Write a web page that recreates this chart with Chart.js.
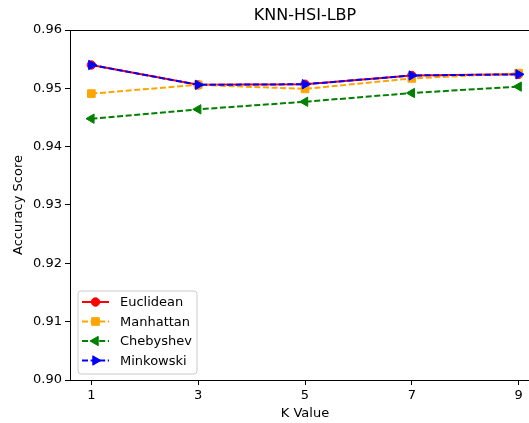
<!DOCTYPE html>
<html><head><meta charset="utf-8">
<script src="https://cdn.jsdelivr.net/npm/chart.js@4.4.1/dist/chart.umd.min.js"></script>
<style>html,body{margin:0;padding:0;overflow:hidden;background:#fff;width:529px;height:423px}</style>
</head><body>
<canvas id="c" width="560" height="423" style="display:block;width:560px;height:423px"></canvas>
<script>
const chartTitle = 'KNN-HSI-LBP';
const kValues = [1, 3, 5, 7, 9];
const euclidean = [0.9540, 0.9506, 0.9507, 0.9522, 0.9524];
const manhattan = [0.9491, 0.9506, 0.9499, 0.9517, 0.9526];
const chebyshev = [0.9448, 0.9464, 0.9477, 0.9492, 0.9503];
const minkowski = [0.9540, 0.9506, 0.9507, 0.9522, 0.9524];
const seriesNames = ['Euclidean', 'Manhattan', 'Chebyshev', 'Minkowski'];
const yTicks = [0.90, 0.91, 0.92, 0.93, 0.94, 0.95, 0.96];
const xTicks = [1, 3, 5, 7, 9];

const FONT = "'DejaVu Sans', sans-serif";
const styles = [
  {color: '#ff0000', dash: [], pointStyle: 'circle', rotation: 0, radius: 4.2},
  {color: '#ffa500', dash: [6, 2.6], pointStyle: 'rect', rotation: 0, radius: 5.4},
  {color: '#008000', dash: [6, 2.6], pointStyle: 'triangle', rotation: -90, radius: 5.4},
  {color: '#0000ff', dash: [6, 2.6], pointStyle: 'triangle', rotation: 90, radius: 5.4}
];
const allSeries = [euclidean, manhattan, chebyshev, minkowski];

const datasets = allSeries.map((vals, i) => ({
  label: seriesNames[i],
  data: kValues.map((k, j) => ({x: k, y: vals[j]})),
  borderColor: styles[i].color,
  backgroundColor: styles[i].color,
  pointBackgroundColor: styles[i].color,
  pointBorderColor: styles[i].color,
  pointBorderWidth: 1,
  pointStyle: styles[i].pointStyle,
  pointRotation: styles[i].rotation,
  pointRadius: styles[i].radius,
  borderWidth: 2,
  borderDash: styles[i].dash,
  tension: 0,
  fill: false,
  order: 3 - i
}));

const boxPlugin = {
  id: 'boxPlugin',
  afterDraw(chart) {
    const {ctx, chartArea: a} = chart;
    ctx.save();
    ctx.strokeStyle = '#000';
    ctx.lineWidth = 1;
    ctx.beginPath();
    ctx.moveTo(a.left, a.top + 0.5);
    ctx.lineTo(a.right, a.top + 0.5);
    ctx.moveTo(a.right - 0.5, a.top);
    ctx.lineTo(a.right - 0.5, a.bottom);
    ctx.stroke();
    // title
    ctx.fillStyle = '#000';
    ctx.font = '16px ' + FONT;
    ctx.textAlign = 'center';
    ctx.textBaseline = 'middle';
    ctx.fillText(chartTitle, (a.left + a.right) / 2, 16);
    // legend
    const lx = 78, ly = 291, lw = 119, lh = 83, r = 3;
    ctx.beginPath();
    ctx.moveTo(lx + r, ly);
    ctx.arcTo(lx + lw, ly, lx + lw, ly + lh, r);
    ctx.arcTo(lx + lw, ly + lh, lx, ly + lh, r);
    ctx.arcTo(lx, ly + lh, lx, ly, r);
    ctx.arcTo(lx, ly, lx + lw, ly, r);
    ctx.closePath();
    ctx.fillStyle = 'rgba(255,255,255,0.8)';
    ctx.fill();
    ctx.strokeStyle = '#cccccc';
    ctx.stroke();
    ctx.font = '13px ' + FONT;
    ctx.textAlign = 'left';
    seriesNames.forEach((name, i) => {
      const y = 302 + i * 19.5;
      const s = styles[i];
      ctx.save();
      ctx.strokeStyle = s.color;
      ctx.lineWidth = 2;
      ctx.setLineDash(s.dash);
      ctx.beginPath();
      ctx.moveTo(82, y);
      ctx.lineTo(109, y);
      ctx.stroke();
      ctx.restore();
      ctx.save();
      ctx.fillStyle = s.color;
      ctx.strokeStyle = s.color;
      ctx.lineWidth = 1;
      Chart.helpers.drawPoint(ctx, {pointStyle: s.pointStyle, rotation: s.rotation, radius: s.radius, borderWidth: 1}, 95.5, y);
      ctx.restore();
      ctx.fillStyle = '#000';
      ctx.fillText(name, 120, y + 1);
    });
    ctx.restore();
  }
};

new Chart(document.getElementById('c'), {
  type: 'line',
  data: {datasets},
  options: {
    responsive: false,
    animation: false,
    devicePixelRatio: 1,
    layout: {padding: {top: 30, right: 20, left: 0, bottom: 0}},
    plugins: {legend: {display: false}, title: {display: false}, tooltip: {enabled: false}},
    scales: {
      x: {
        type: 'linear',
        min: 0.6, max: 9.4,
        afterBuildTicks: s => { s.ticks = xTicks.map(v => ({value: v})); },
        afterFit: s => { s.height = 43; },
        grid: {display: true, drawOnChartArea: false, drawTicks: true, tickLength: 5, color: '#000', tickColor: '#000'},
        border: {display: true, color: '#000', width: 1},
        ticks: {color: '#000', font: {family: FONT, size: 13}, padding: 3, maxRotation: 0, autoSkip: false},
        title: {display: true, text: 'K Value', color: '#000', font: {family: FONT, size: 13}, padding: {top: 0, bottom: 2}}
      },
      y: {
        type: 'linear',
        min: 0.90, max: 0.96,
        afterBuildTicks: s => { s.ticks = yTicks.map(v => ({value: v})); },
        afterFit: s => { s.width = 70; },
        grid: {display: true, drawOnChartArea: false, drawTicks: true, tickLength: 5, color: '#000', tickColor: '#000'},
        border: {display: true, color: '#000', width: 1},
        ticks: {color: '#000', font: {family: FONT, size: 13}, padding: 3, callback: v => v.toFixed(2)},
        title: {display: true, text: 'Accuracy Score', color: '#000', font: {family: FONT, size: 13}, padding: {top: 11, bottom: 0}}
      }
    }
  },
  plugins: [boxPlugin]
});
</script>
</body></html>
